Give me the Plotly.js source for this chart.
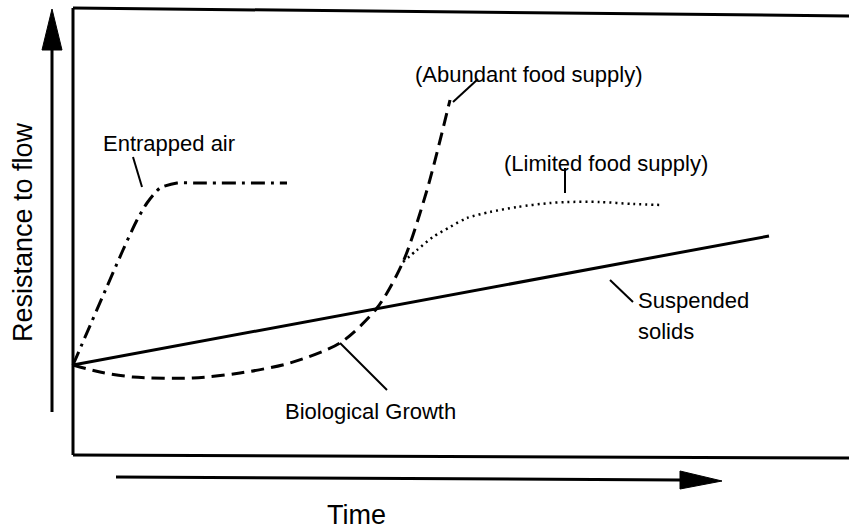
<!DOCTYPE html>
<html>
<head>
<meta charset="utf-8">
<script src="https://cdn.plot.ly/plotly-3.0.1.min.js"></script>
<style>html,body{margin:0;padding:0;background:#fff;}#chart{width:849px;height:531px;}</style>
</head>
<body>
<div id="chart"></div>
<script>
// Conceptual units: time along x (0 = start), resistance along y (0 = frame floor)
const solidsTime = [0, 696];
const solidsResistance = [90, 219];

const bioTime = [0, 27, 60, 120, 167, 217, 267, 304, 330, 354, 377];
const bioResistance = [90, 83, 78, 77, 82, 92, 112, 147, 193, 265, 355];

const limitedTime = [330, 344, 360, 377, 394, 417, 444, 477, 494, 527, 560, 590];
const limitedResistance = [193, 205, 218, 228, 237, 243, 248, 252, 253, 253, 251, 250];

const airTime = [0, 50, 64, 74, 87, 104, 127, 214];
const airResistance = [90, 205, 235, 252, 267, 272, 272, 272];

const labels = {
  air: "Entrapped air",
  abundant: "(Abundant food supply)",
  limited: "(Limited food supply)",
  solids1: "Suspended",
  solids2: "solids",
  bio: "Biological Growth",
  yTitle: "Resistance to flow",
  xTitle: "Time"
};

const FONT = "Liberation Sans, Arial, Helvetica, sans-serif";

const traces = [
  {x: solidsTime, y: solidsResistance, mode: "lines", line: {color: "#000", width: 3}},
  {x: bioTime, y: bioResistance, mode: "lines", line: {color: "#000", width: 3, dash: "13px,7px", shape: "spline", smoothing: 0.8}},
  {x: limitedTime, y: limitedResistance, mode: "lines", line: {color: "#000", width: 2.5, dash: "2px,4px", shape: "spline", smoothing: 0.8}},
  {x: airTime, y: airResistance, mode: "lines", line: {color: "#000", width: 3, dash: "14px,6px,3px,6px", shape: "spline", smoothing: 0.6}}
];

function seg(x0, y0, x1, y1, w) {
  return {type: "line", xref: "x", yref: "y", x0: x0, y0: y0, x1: x1, y1: y1, line: {color: "#000", width: w}};
}
function tri(path) {
  return {type: "path", xref: "x", yref: "y", path: path, fillcolor: "#000", line: {color: "#000", width: 1}};
}

const shapes = [
  // frame
  seg(0, 0, 0, 447, 3),
  seg(0, 447, 776, 439, 3),
  seg(0, 0, 776, -3, 3),
  // vertical arrow
  seg(-21, 43, -21, 405, 3),
  tri("M -21 446 L -31 405 L -11 405 Z"),
  // horizontal arrow
  seg(43, -22, 607, -25, 3),
  tri("M 649 -26 L 607 -16 L 607 -34 Z"),
  // leader lines
  seg(60, 298, 69, 268, 2),
  seg(380, 353, 405, 376, 2),
  seg(492, 287, 492, 262, 2),
  seg(537, 175, 560, 153, 2),
  seg(267, 112, 314, 65, 2)
];

function ann(text, x, y, size, extra) {
  return Object.assign({text: text, x: x, y: y, xref: "x", yref: "y", showarrow: false,
    xanchor: "left", yanchor: "middle", font: {family: FONT, size: size, color: "#000"}}, extra || {});
}

const annotations = [
  ann(labels.air, 28, 312, 22),
  ann(labels.abundant, 340, 381, 22),
  ann(labels.limited, 429, 292, 22),
  ann(labels.solids1, 563, 155, 22),
  ann(labels.solids2, 563, 124, 22),
  ann(labels.bio, 210, 44, 22),
  ann(labels.yTitle, -50, 223, 27, {textangle: -90, xanchor: "center"}),
  ann(labels.xTitle, 283, -76, 27, {xanchor: "center", yanchor: "bottom", borderpad: 0})
];

const layout = {
  width: 849, height: 531, autosize: false,
  margin: {l: 0, r: 0, t: 0, b: 0, pad: 0},
  paper_bgcolor: "#fff", plot_bgcolor: "#fff",
  showlegend: false,
  xaxis: {range: [-73, 776], visible: false, fixedrange: true},
  yaxis: {range: [-76, 455], visible: false, fixedrange: true},
  shapes: shapes,
  annotations: annotations
};

Plotly.newPlot("chart", traces, layout, {displayModeBar: false, staticPlot: true});
</script>
</body>
</html>
